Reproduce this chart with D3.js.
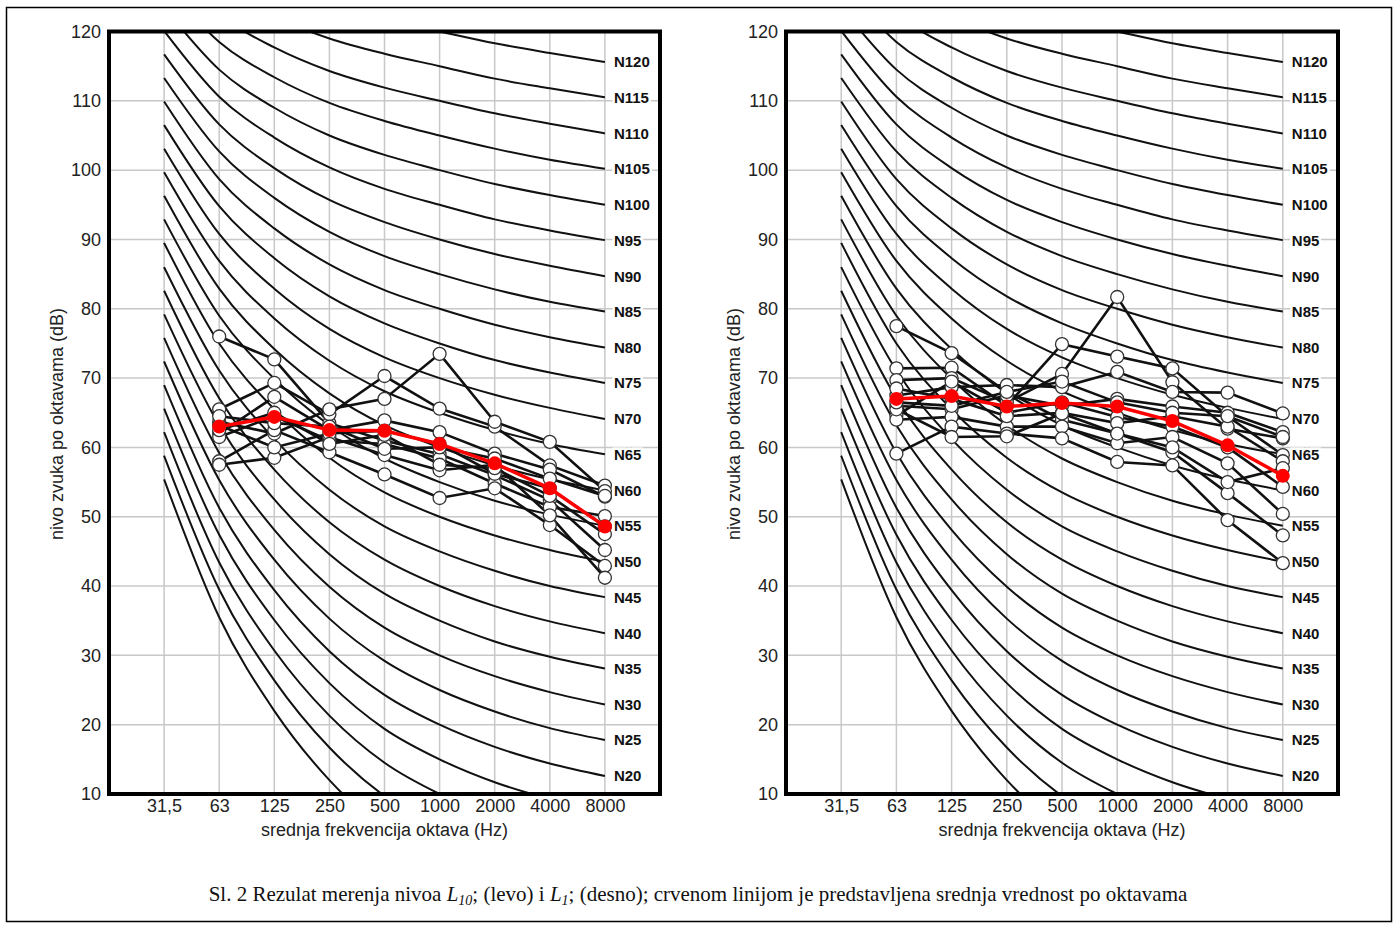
<!DOCTYPE html>
<html>
<head>
<meta charset="utf-8">
<script src="https://cdn.jsdelivr.net/npm/d3@7"></script>
<style>
  body { margin: 0; background: #fff; }
  svg { display: block; }
  .tick text { font-family: "Liberation Sans", Arial, sans-serif; font-size: 18px; fill: #222; }
</style>
</head>
<body>
<div id="chart"></div>
<script>
// octave band centre frequencies (tick labels)
var freqLabels = ["31,5", "63", "125", "250", "500", "1000", "2000", "4000", "8000"];
var dataFreqs = ["63", "125", "250", "500", "1000", "2000", "4000", "8000"];
var yTicks = [10, 20, 30, 40, 50, 60, 70, 80, 90, 100, 110, 120];

// noise rating curves, levels per octave band 31,5 ... 8000 Hz
var nrNames = ["N0", "N5", "N10", "N15", "N20", "N25", "N30", "N35", "N40", "N45", "N50", "N55", "N60",
               "N65", "N70", "N75", "N80", "N85", "N90", "N95", "N100", "N105", "N110", "N115", "N120"];
var nrCurves = [
  [55.4, 35.5, 22.0, 12.0, 4.8, 0, -3.5, -6.1, -8.0],
  [58.8, 39.5, 26.4, 16.7, 9.7, 5, 1.6, -1.0, -2.9],
  [62.2, 43.4, 30.7, 21.3, 14.5, 10, 6.7, 4.2, 2.3],
  [65.6, 47.4, 35.1, 26.0, 19.4, 15, 11.7, 9.3, 7.5],
  [69.0, 51.3, 39.4, 30.6, 24.3, 20, 16.8, 14.4, 12.6],
  [72.4, 55.3, 43.8, 35.3, 29.2, 25, 21.9, 19.5, 17.8],
  [75.8, 59.2, 48.1, 39.9, 34.0, 30, 27.0, 24.7, 22.9],
  [79.2, 63.2, 52.5, 44.6, 38.9, 35, 32.0, 29.8, 28.1],
  [82.6, 67.1, 56.8, 49.2, 43.8, 40, 37.1, 34.9, 33.2],
  [86.0, 71.1, 61.2, 53.9, 48.6, 45, 42.2, 40.0, 38.4],
  [89.5, 75.0, 65.5, 58.5, 53.5, 50, 47.3, 45.2, 43.5],
  [92.9, 79.0, 69.9, 63.2, 58.4, 55, 52.3, 50.3, 48.7],
  [96.3, 82.9, 74.2, 67.8, 63.2, 60, 57.4, 55.4, 53.8],
  [99.7, 86.9, 78.6, 72.5, 68.1, 65, 62.5, 60.5, 59.0],
  [103.1, 90.8, 82.9, 77.1, 73.0, 70, 67.6, 65.7, 64.1],
  [106.5, 94.8, 87.3, 81.8, 77.9, 75, 72.6, 70.8, 69.3],
  [109.9, 98.7, 91.6, 86.4, 82.7, 80, 77.7, 75.9, 74.4],
  [113.3, 102.7, 96.0, 91.1, 87.6, 85, 82.8, 81.0, 79.6],
  [116.7, 106.6, 100.3, 95.7, 92.5, 90, 87.9, 86.2, 84.7],
  [120.1, 110.6, 104.7, 100.4, 97.3, 95, 92.9, 91.3, 89.9],
  [123.5, 114.5, 109.0, 105.0, 102.2, 100, 98.0, 96.4, 95.0],
  [126.9, 118.5, 113.4, 109.7, 107.1, 105, 103.1, 101.5, 100.2],
  [130.3, 122.4, 117.7, 114.3, 111.9, 110, 108.2, 106.7, 105.3],
  [133.7, 126.4, 122.1, 119.0, 116.8, 115, 113.2, 111.8, 110.5],
  [137.1, 130.3, 126.4, 123.6, 121.7, 120, 118.3, 116.9, 115.6]
];
var nrFirstLabel = 4; // labels drawn from N20 up

// L10 measurements (left), 63 ... 8000 Hz
var l10Series = [
  [76.0, 72.7, 63.5, 61.0, 59.0, 56.0, 52.4, 45.2],
  [65.5, 69.3, 64.8, 70.3, 65.6, 63.0, 57.4, 54.5],
  [63.7, 62.0, 65.5, 67.0, 73.5, 63.7, 60.8, 53.7],
  [62.0, 67.3, 62.5, 63.9, 62.2, 59.1, 56.8, 52.9],
  [61.5, 64.5, 61.0, 60.5, 58.4, 54.8, 51.4, 50.1],
  [58.0, 62.5, 59.3, 56.1, 52.7, 54.1, 48.8, 42.9],
  [57.5, 58.5, 61.5, 58.9, 56.7, 57.5, 50.2, 41.2],
  [63.2, 60.0, 62.0, 62.4, 60.5, 56.2, 54.1, 48.6],
  [64.5, 63.5, 63.0, 59.8, 60.0, 58.4, 55.5, 53.0],
  [62.5, 65.0, 60.5, 61.8, 57.5, 57.0, 53.0, 47.5]
];
var l10Mean = [63.0, 64.4, 62.5, 62.4, 60.5, 57.7, 54.1, 48.6];

// L1 measurements (right), 63 ... 8000 Hz
var l1Series = [
  [77.5, 73.6, 68.0, 64.0, 62.0, 59.3, 53.4, 47.3],
  [71.4, 71.5, 66.0, 74.9, 73.1, 71.4, 64.5, 58.9],
  [69.7, 70.0, 66.5, 70.6, 81.7, 69.4, 62.7, 61.3],
  [67.5, 68.7, 69.0, 68.7, 70.9, 68.0, 67.9, 64.9],
  [66.0, 65.5, 67.5, 66.0, 67.0, 65.9, 65.0, 62.2],
  [64.6, 69.5, 65.0, 66.5, 64.4, 63.0, 60.0, 54.3],
  [64.0, 64.4, 63.0, 63.0, 60.6, 61.5, 57.7, 50.4],
  [59.1, 63.0, 62.0, 61.3, 57.9, 57.4, 49.5, 43.3],
  [68.5, 67.0, 64.5, 65.0, 63.5, 64.5, 63.0, 58.0],
  [65.5, 61.5, 61.6, 64.9, 62.0, 60.0, 55.0, 57.0],
  [66.5, 66.0, 68.0, 69.5, 66.5, 65.0, 64.5, 61.5]
];
var l1Mean = [67.0, 67.4, 65.9, 66.4, 65.9, 63.8, 60.3, 55.9];

var svg = d3.select("#chart")
    .append("svg")
    .attr("width", 1397)
    .attr("height", 928);

// outer frame of the figure
svg.append("rect")
    .attr("x", 6.5).attr("y", 7.5)
    .attr("width", 1385).attr("height", 914)
    .attr("fill", "none")
    .attr("stroke", "#000")
    .attr("stroke-width", 1.5);

function drawPanel(id, left, right, series, mean) {
  var top = 31.5, bottom = 794;

  var x = d3.scalePoint()
      .domain(freqLabels)
      .range([left, right])
      .padding(1);

  var y = d3.scaleLinear()
      .domain([10, 120])
      .range([bottom, top]);

  var g = svg.append("g").attr("class", "panel-" + id);

  g.append("clipPath")
      .attr("id", "clip-" + id)
    .append("rect")
      .attr("x", left).attr("y", top)
      .attr("width", right - left).attr("height", bottom - top);

  // grid
  g.append("g").selectAll("line.h")
      .data(yTicks.slice(1, -1))
    .enter().append("line")
      .attr("x1", left).attr("x2", right)
      .attr("y1", function(d) { return y(d); })
      .attr("y2", function(d) { return y(d); })
      .attr("stroke", "#c8c8c8")
      .attr("stroke-width", 1.5);

  g.append("g").selectAll("line.v")
      .data(freqLabels)
    .enter().append("line")
      .attr("x1", function(d) { return x(d); })
      .attr("x2", function(d) { return x(d); })
      .attr("y1", top).attr("y2", bottom)
      .attr("stroke", "#c8c8c8")
      .attr("stroke-width", 1.5);

  // NR curves
  var nrLine = d3.line()
      .x(function(d, i) { return x(freqLabels[i]); })
      .y(function(d) { return y(d); })
      .curve(d3.curveMonotoneX);

  g.append("g")
      .attr("clip-path", "url(#clip-" + id + ")")
    .selectAll("path")
      .data(nrCurves)
    .enter().append("path")
      .attr("d", nrLine)
      .attr("fill", "none")
      .attr("stroke", "#111")
      .attr("stroke-width", 2);

  g.append("g").selectAll("text")
      .data(nrCurves.slice(nrFirstLabel))
    .enter().append("text")
      .attr("x", x("8000") + 9)
      .attr("y", function(d) { return y(d[8]); })
      .attr("dy", "0.36em")
      .attr("paint-order", "stroke")
      .attr("stroke", "#fff")
      .attr("stroke-width", 5)
      .style("font-family", "'Liberation Sans', Arial, sans-serif")
      .style("font-size", "15px")
      .style("font-weight", "bold")
      .style("fill", "#111")
      .text(function(d, i) { return nrNames[i + nrFirstLabel]; });

  // measured spectra
  var dataLine = d3.line()
      .x(function(d, i) { return x(dataFreqs[i]); })
      .y(function(d) { return y(d); });

  g.append("g").selectAll("path")
      .data(series)
    .enter().append("path")
      .attr("d", dataLine)
      .attr("fill", "none")
      .attr("stroke", "#111")
      .attr("stroke-width", 2.6);

  series.forEach(function(s) {
    g.append("g").selectAll("circle")
        .data(s)
      .enter().append("circle")
        .attr("cx", function(d, i) { return x(dataFreqs[i]); })
        .attr("cy", function(d) { return y(d); })
        .attr("r", 6.5)
        .attr("fill", "#fff")
        .attr("stroke", "#333")
        .attr("stroke-width", 1.3);
  });

  // mean per octave
  g.append("path")
      .datum(mean)
      .attr("d", dataLine)
      .attr("fill", "none")
      .attr("stroke", "#ff0000")
      .attr("stroke-width", 3.5);

  g.append("g").selectAll("circle")
      .data(mean)
    .enter().append("circle")
      .attr("cx", function(d, i) { return x(dataFreqs[i]); })
      .attr("cy", function(d) { return y(d); })
      .attr("r", 7)
      .attr("fill", "#ff0000");

  // frame
  g.append("rect")
      .attr("x", left).attr("y", top)
      .attr("width", right - left).attr("height", bottom - top)
      .attr("fill", "none")
      .attr("stroke", "#000")
      .attr("stroke-width", 4);

  // axes
  g.append("g")
      .attr("transform", "translate(" + left + ",0)")
      .call(d3.axisLeft(y).tickValues(yTicks).tickSize(0).tickPadding(8))
      .call(function(a) { a.select(".domain").remove(); });

  g.append("g")
      .attr("transform", "translate(0," + bottom + ")")
      .call(d3.axisBottom(x).tickSize(0).tickPadding(5))
      .call(function(a) { a.select(".domain").remove(); });

  g.append("text")
      .attr("x", (left + right) / 2)
      .attr("y", 836)
      .attr("text-anchor", "middle")
      .style("font-family", "'Liberation Sans', Arial, sans-serif")
      .style("font-size", "18px")
      .style("fill", "#222")
      .text("srednja frekvencija oktava (Hz)");

  g.append("text")
      .attr("transform", "translate(" + (left - 52) + ",424) rotate(-90)")
      .attr("text-anchor", "middle")
      .attr("dy", "0.35em")
      .style("font-family", "'Liberation Sans', Arial, sans-serif")
      .style("font-size", "18px")
      .style("fill", "#222")
      .text("nivo zvuka po oktavama (dB)");
}

drawPanel("l10", 109, 660, l10Series, l10Mean);
drawPanel("l1", 786, 1338, l1Series, l1Mean);

// caption
var cap = svg.append("text")
    .attr("x", 698)
    .attr("y", 901)
    .attr("text-anchor", "middle")
    .style("font-family", "'Liberation Serif', 'Times New Roman', serif")
    .style("font-size", "21px")
    .style("fill", "#111");

cap.append("tspan").text("Sl. 2 Rezulat merenja nivoa ");
cap.append("tspan").style("font-style", "italic").text("L");
cap.append("tspan").style("font-style", "italic").style("font-size", "14px").attr("dy", 4).text("10");
cap.append("tspan").attr("dy", -4).text("; (levo) i ");
cap.append("tspan").style("font-style", "italic").text("L");
cap.append("tspan").style("font-style", "italic").style("font-size", "14px").attr("dy", 4).text("1");
cap.append("tspan").attr("dy", -4).text("; (desno); crvenom linijom je predstavljena srednja vrednost po oktavama");
</script>
</body>
</html>
